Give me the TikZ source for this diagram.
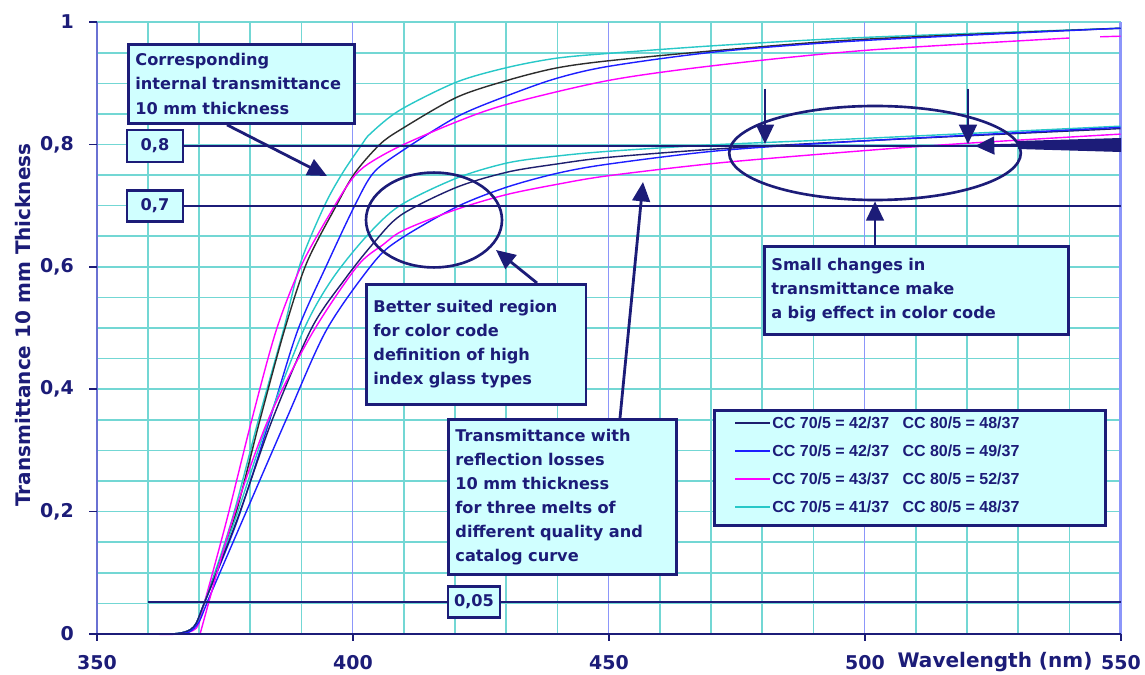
\documentclass[tikz,border=0pt]{standalone}
\usepackage{fontspec}
\setmainfont{DejaVu Sans}
\newfontfamily\legendfam{Liberation Sans}
\usepackage{xcolor}
\usetikzlibrary{positioning,calc,arrows.meta,shapes.geometric}

\definecolor{chartnavy}{RGB}{28,28,120}
\definecolor{boxfill}{RGB}{208,255,255}
\definecolor{gridcyan}{RGB}{115,215,212}
\definecolor{gridblue}{RGB}{140,150,250}
\definecolor{curveturq}{RGB}{40,200,200}
\definecolor{curveblue}{RGB}{30,30,255}
\definecolor{curvemag}{RGB}{255,0,255}
\definecolor{curvedark}{RGB}{45,45,45}
\definecolor{curvenavy}{RGB}{30,30,110}

\newcommand{\boxfont}{\fontsize{9.2pt}{13.7pt}\selectfont\bfseries}
\newcommand{\tickfont}{\fontsize{10.8pt}{13pt}\selectfont\bfseries}
\newcommand{\axtitlefont}{\fontsize{11.4pt}{14pt}\selectfont\bfseries}
\newcommand{\legfont}{\legendfam\fontsize{9.1pt}{11pt}\selectfont\bfseries}

\begin{document}
\begin{tikzpicture}[
    x=0.02cm, y=-0.02cm,
    gridline/.style={draw=gridcyan, line width=0.9pt},
    majorline/.style={draw=gridblue, line width=0.9pt},
    refline/.style={draw=chartnavy, line width=1.1pt},
    curve/.style={line width=0.8pt, smooth, tension=0.5},
    callout/.style={draw=chartnavy, line width=1.6pt, fill=boxfill, text=chartnavy, font=\boxfont, align=left, anchor=north west, inner xsep=4pt, inner ysep=3pt},
    valbox/.style={draw=chartnavy, line width=1.6pt, fill=boxfill, text=chartnavy, font=\boxfont, inner sep=0pt},
    ring/.style={ellipse, draw=chartnavy, line width=1.5pt, inner sep=0pt},
    pointer/.style={draw=chartnavy, line width=1.6pt, -{Triangle[length=11pt,width=10pt]}},
    ticklab/.style={text=chartnavy, font=\tickfont},
    axtitle/.style={text=chartnavy, font=\axtitlefont}
]
    \useasboundingbox[fill=white] (0,0) rectangle (1145,675);

    % grid and curves in data units (nm, transmittance)
    \begin{scope}[shift={(-1695,634)}, x=0.1024cm, y=12.24cm]
        \foreach \l in {360,370,...,540} \draw[gridline] (\l,0) -- (\l,1);
        \foreach \i in {1,...,20} \draw[gridline] (350,\i/20) -- (550,\i/20);
        \foreach \l in {400,450,500} \draw[majorline] (\l,0) -- (\l,1);
        \draw[draw=gridblue, line width=1.8pt] (550,0) -- (550,1);

        % internal transmittance
        \draw[curve, curveturq] plot coordinates {(360,0) (366,0.001) (369,0.012) (371,0.05) (376.4,0.186) (381.6,0.35) (386.5,0.497) (389.8,0.606) (394.5,0.70) (398,0.753) (401.8,0.8) (403.5,0.818) (409.2,0.856) (420.3,0.902) (430.3,0.926) (439.8,0.941) (450.2,0.949) (471.7,0.962) (500,0.975) (550,0.99)};
        \draw[curve, curvedark] plot coordinates {(360,0) (366,0.001) (369,0.012) (371,0.05) (376.8,0.186) (381.9,0.35) (386.7,0.497) (391,0.606) (396.8,0.70) (400.4,0.753) (405.3,0.8) (409.5,0.825) (420.3,0.877) (430.3,0.905) (439.8,0.925) (450.2,0.937) (471.7,0.954) (500,0.972) (550,0.99)};
        \draw[curve, curveblue] plot coordinates {(360,0) (366,0.001) (369,0.012) (371,0.05) (377.5,0.186) (383.8,0.35) (389.3,0.497) (395.1,0.606) (400.4,0.70) (404,0.753) (409.2,0.787) (420.3,0.845) (430.3,0.88) (439.8,0.908) (450.2,0.928) (471.7,0.952) (500,0.97) (550,0.99)};
        \draw[curve, curvemag] plot coordinates {(360,0) (366,0) (369.5,0.01) (371,0.05) (375.4,0.186) (380.3,0.35) (385.1,0.497) (390.2,0.606) (396.5,0.70) (400,0.745) (403,0.768) (409.2,0.797) (420.3,0.837) (430.3,0.866) (450.2,0.905) (471.7,0.93) (500.4,0.954) (540,0.974)};
        \draw[curvemag, line width=0.8pt] (546,0.976) -- (550,0.977);

        % with reflection losses
        \draw[curve, curveturq] plot coordinates {(360,0) (366,0.001) (369,0.012) (371,0.05) (377,0.186) (383.6,0.35) (390.6,0.5) (396,0.58) (402.7,0.65) (409.2,0.7) (420.3,0.745) (430.3,0.77) (439.8,0.781) (450.2,0.789) (471.7,0.8) (500,0.81) (550,0.83)};
        \draw[curve, curvenavy] plot coordinates {(360,0) (366,0.001) (369,0.012) (371,0.05) (377.4,0.186) (384.3,0.35) (392,0.5) (398.5,0.58) (404,0.638) (409.5,0.685) (420.3,0.73) (430.3,0.755) (439.8,0.768) (450,0.779) (471.7,0.793) (500,0.806) (550,0.826)};
        \draw[curve, curveblue] plot coordinates {(365,0) (368,0.003) (370,0.02) (372,0.06) (378.5,0.186) (387,0.35) (394.9,0.497) (404,0.606) (409.2,0.645) (420.3,0.698) (430,0.73) (440,0.753) (450,0.768) (471.7,0.79) (500,0.806) (550,0.828)};
        \draw[curve, curvemag] plot coordinates {(370.2,0) (376.5,0.186) (383.5,0.35) (392,0.49) (400.8,0.6) (405.9,0.636) (410,0.66) (420.3,0.694) (430,0.718) (440,0.735) (450,0.749) (471.7,0.77) (500,0.79) (520,0.802) (550,0.817)};
    \end{scope}

    % axes
    \draw[draw=gridblue!70!chartnavy, line width=1.1pt] (97,634) -- (97,22);
    \draw[draw=chartnavy, line width=1.3pt] (97,634) -- (1121,634);
    \foreach \i in {0,...,5} \draw[draw=chartnavy, line width=1pt] (89,634-122.4*\i) -- (97,634-122.4*\i);
    \foreach \l in {350,400,450,500,550} \draw[draw=chartnavy, line width=1pt] (97+5.12*\l-1792,634) -- (97+5.12*\l-1792,641);

    \foreach \i/\lab in {0/0,1/{0,2},2/{0,4},3/{0,6},4/{0,8},5/1}
        \node[ticklab, anchor=east] (ylab\i) at (80,634-122.4*\i) {\lab};
    \foreach \l in {350,400,450,500,550}
        \node[ticklab] (xlab\l) at (97+5.12*\l-1792,663) {\l};
    \node[axtitle] (xtitle) at (995,662) {Wavelength (nm)};
    \node[axtitle, rotate=90] (ytitle) at (23,325) {Transmittance 10 mm Thickness};

    % reference levels
    \node[valbox, minimum width=31.9pt, minimum height=18.2pt] (b08) at (155,146) {0,8};
    \node[valbox, minimum width=31.9pt, minimum height=17.2pt] (b07) at (155,206) {0,7};
    \node[valbox, minimum width=29.6pt, minimum height=17.6pt] (b005) at (474,602) {0,05};
    \coordinate (r08) at (1121,146);
    \coordinate (r07) at (1121,206);
    \coordinate (l005) at (148,602);
    \coordinate (r005) at (1121,602);
    \draw[refline] (b08.east) -- (r08);
    \draw[refline] (b07.east) -- (r07);
    \draw[refline] (l005) -- (b005.west);
    \draw[refline] (b005.east) -- (r005);

    % annotations
    \node[ring, minimum width=77.4pt, minimum height=54pt] (ringL) at (434,220) {};
    \node[ring, minimum width=166pt, minimum height=53.5pt] (ringR) at (875,153) {};

    \node[callout, text width=120.6pt, minimum height=45pt] (corr) at (127,43)
        {Corresponding\\internal transmittance\\10 mm thickness};
    \node[callout, text width=117pt, minimum height=68.3pt] (better) at (365,283)
        {Better suited region\\for color code\\definition of high\\index glass types};
    \node[callout, text width=121.7pt, minimum height=88.2pt] (trans) at (447,418)
        {Transmittance with\\reflection losses\\10 mm thickness\\for three melts of\\different quality and\\catalog curve};
    \node[callout, text width=165pt, minimum height=50pt] (small) at (763,245)
        {Small changes in\\transmittance make\\a big effect in color code};

    \coordinate (corrtip) at (327,176);
    \coordinate (bettertip) at (496,250);
    \coordinate (transtip) at (643,182);
    \coordinate (downA) at (765,89);
    \coordinate (downAtip) at (765,144);
    \coordinate (downB) at (968,89);
    \coordinate (downBtip) at (968,144);
    \coordinate (lefttip) at (975,146);

    \draw[pointer] ($(corr.south west)+(100,0)$) -- (corrtip);
    \draw[pointer] ($(better.north west)+(172,0)$) -- (bettertip);
    \draw[pointer] ($(trans.north west)+(173,0)$) -- (transtip);
    \draw[pointer] ($(small.north west)+(112,0)$) -- (ringR.south);
    \draw[pointer] (downA) -- (downAtip);
    \draw[pointer] (downB) -- (downBtip);
    \fill[chartnavy] (1121,138) -- (1018,141) -- (1018,149) -- (1121,152) -- cycle;
    \draw[pointer] (1018,145) -- (lefttip);

    % legend
    \node[draw=chartnavy, line width=1.6pt, fill=boxfill, minimum width=222.5pt, minimum height=65.4pt, anchor=north west] (legend) at (713,409) {};
    \foreach \c/\a/\b [count=\i] in {curvenavy/42/48, curveblue/42/49, curvemag/43/52, curveturq/41/48} {
        \draw[\c, line width=1.2pt] (735,395+28*\i) -- (770,395+28*\i);
        \node[text=chartnavy, font=\legfont, anchor=west, inner sep=0pt] (leg\i) at (772,395+28*\i)
            {CC 70/5 = \a/37~~ CC 80/5 = \b/37};
    }
\end{tikzpicture}
\end{document}
